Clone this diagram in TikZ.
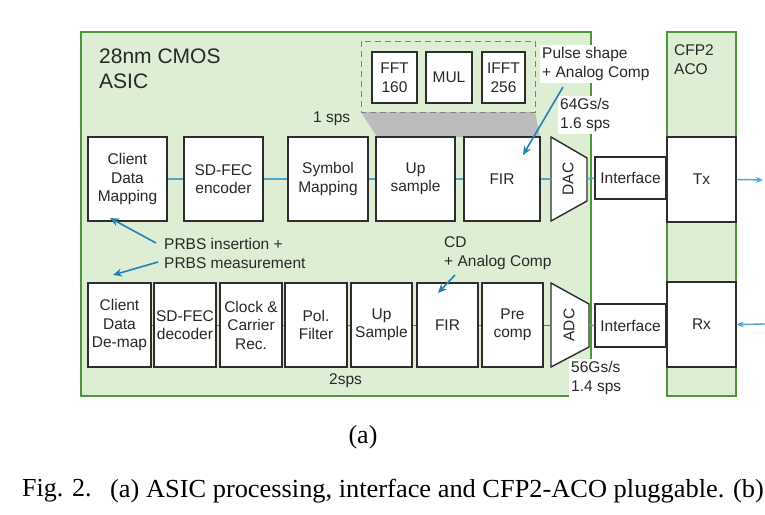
\documentclass[tikz,border=0pt]{standalone}
\usepackage{fontspec}
\setmainfont{Liberation Sans}
\newfontfamily\capfont{Liberation Serif}
\usetikzlibrary{arrows.meta}

\definecolor{asicfill}{RGB}{221,238,212}
\definecolor{asicline}{RGB}{78,150,58}
\definecolor{boxline}{RGB}{45,45,45}
\definecolor{linkblue}{RGB}{80,165,205}
\definecolor{arrowblue}{RGB}{35,130,180}
\definecolor{txt}{RGB}{40,40,40}
\definecolor{greyband}{RGB}{188,188,188}

\begin{document}
\begin{tikzpicture}[x=1pt,y=-1pt,
  blk/.style={draw=boxline, line width=1.4pt, fill=white, text=txt, align=center,
              inner sep=0pt, font=\fontsize{15.5}{18.5}\selectfont},
  conv/.style={draw=boxline, line width=1.4pt, fill=white},
  lbl/.style={text=txt, align=left, inner sep=2pt, anchor=north west,
              font=\fontsize{15.5}{19}\selectfont},
  whitelbl/.style={lbl, fill=white},
  link/.style={draw=linkblue, line width=1.4pt},
  stub/.style={draw=boxline!70, line width=1pt},
  ptr/.style={draw=arrowblue, line width=1.6pt, -{Stealth[length=9pt,width=8pt]}},
  region/.style={draw=asicline, line width=2pt, fill=asicfill},
  captext/.style={text=black, inner sep=0pt, font=\capfont\fontsize{26}{30}\selectfont},
]
\useasboundingbox (0,0) rectangle (765,514);

% ASIC and pluggable outlines
\path[region] (81,32) rectangle (591,396);
\path[region] (667,32) rectangle (736,396);

% rate and function labels sitting on the outline
\node[whitelbl] (pulse) at (540,45) {Pulse shape\\+ Analog Comp};
\node[whitelbl] (rate1) at (558,96) {64Gs/s\\1.6 sps};
\node[whitelbl] (rate2) at (569,359) {56Gs/s\\1.4 sps};

\node[lbl, font=\fontsize{21}{25}\selectfont] (asic) at (97,47) {28nm CMOS\\ASIC};
\node[lbl] (cfp) at (672,42) {CFP2\\ACO};
\node[lbl] (sps1) at (311,110) {1 sps};
\node[lbl] (sps2) at (327,371) {2sps};
\node[lbl] (prbs) at (162,236) {PRBS insertion +\\PRBS measurement};
\node[lbl] (cd) at (442,234) {CD\\+ Analog Comp};

% frequency-domain filter detail
\fill[greyband] (361,112) -- (535,112) -- (540,137) -- (377,137) -- cycle;
\draw[boxline!60, line width=1pt, dash pattern=on 6pt off 4pt] (361,41) rectangle (535,112);
\node[blk, minimum width=45pt, minimum height=51pt] (fft) at (394.5,77.5) {FFT\\160};
\node[blk, minimum width=46pt, minimum height=51pt] (mul) at (449,77.5) {MUL};
\node[blk, minimum width=43pt, minimum height=51pt] (ifft) at (503.5,77.5) {IFFT\\256};

% transmit chain
\node[blk, minimum width=79pt, minimum height=84pt] (cdm) at (127.5,179) {Client\\Data\\Mapping};
\node[blk, minimum width=79pt, minimum height=84pt] (enc) at (223.5,179) {SD-FEC\\encoder};
\node[blk, minimum width=80pt, minimum height=84pt] (sym) at (328,179) {Symbol\\Mapping};
\node[blk, minimum width=79pt, minimum height=84pt] (ups) at (415.5,179) {Up\\sample};
\node[blk, minimum width=76pt, minimum height=84pt] (fir) at (502,179) {FIR};
\path[conv] (551,137) -- (587,158) -- (587,201) -- (551,221) -- cycle;
\node[text=txt, rotate=90, font=\fontsize{15.5}{18.5}\selectfont] (dac) at (568,179) {DAC};
\coordinate (dacin) at (551,179);
\coordinate (dacout) at (587,179);
\node[blk, minimum width=71pt, minimum height=42pt] (ifa) at (630.5,178) {Interface};
\node[blk, minimum width=69pt, minimum height=85pt] (tx) at (701.5,179.5) {Tx};

% receive chain
\node[blk, minimum width=63pt, minimum height=84pt] (cdd) at (119.5,325) {Client\\Data\\De-map};
\node[blk, minimum width=62pt, minimum height=84pt] (dec) at (185,325) {SD-FEC\\decoder};
\node[blk, minimum width=62pt, minimum height=84pt] (ccr) at (251,325) {Clock \&\\Carrier\\Rec.};
\node[blk, minimum width=62pt, minimum height=84pt] (pol) at (316,325) {Pol.\\Filter};
\node[blk, minimum width=61pt, minimum height=84pt] (ups2) at (381.5,325) {Up\\Sample};
\node[blk, minimum width=61pt, minimum height=84pt] (fir2) at (447.5,325) {FIR};
\node[blk, minimum width=61pt, minimum height=84pt] (pre) at (512.5,325) {Pre\\comp};
\path[conv] (551,283) -- (589,304) -- (589,347) -- (551,367) -- cycle;
\node[text=txt, rotate=90, font=\fontsize{15.5}{18.5}\selectfont] (adc) at (569,325) {ADC};
\coordinate (adcin) at (551,325);
\coordinate (adcout) at (589,325);
\node[blk, minimum width=71pt, minimum height=43pt] (ifb) at (630.5,325.5) {Interface};
\node[blk, minimum width=69pt, minimum height=85pt] (rx) at (701.5,324.5) {Rx};

% transmit links
\draw[link] (cdm.east) -- (enc.west);
\draw[link] (enc.east) -- (sym.west);
\draw[link] (sym.east) -- (ups.west);
\draw[link] (ups.east) -- (fir.west);
\draw[link] (fir.east) -- (dacin);
\draw[link] (dacout) -- (ifa.west);

% receive links
\draw[stub] (cdd.east) -- (dec.west);
\draw[stub] (dec.east) -- (ccr.west);
\draw[stub] (ccr.east) -- (pol.west);
\draw[stub] (pol.east) -- (ups2.west);
\draw[stub] (ups2.east) -- (fir2.west);
\draw[stub] (fir2.east) -- (pre.west);
\draw[stub] (pre.east) -- (adcin);
\draw[link] (adcout) -- (ifb.west);

% optical ports
\coordinate (txo) at (763,180);
\coordinate (rxi) at (765,324);
\draw[draw=linkblue, line width=1.4pt, -{Stealth[length=7pt,width=6pt]}] (tx.east) -- (txo);
\draw[draw=linkblue, line width=1.4pt, -{Stealth[length=7pt,width=6pt]}] (rxi) -- (rx.east);

% annotation pointers
\coordinate (pulsetip) at (523,155);
\coordinate (cdmtip) at (110,218);
\coordinate (cddtip) at (113,275);
\coordinate (cdtip) at (438,293);
\draw[ptr] (563,87) -- (pulsetip);
\draw[ptr] (156,243) -- (cdmtip);
\draw[ptr] (158,262) -- (cddtip);
\draw[ptr] (455,275) -- (cdtip);

% caption
\node[captext] (sub) at (363,437) {(a)};
\node[captext, anchor=west] (fig) at (22,491) {Fig. 2.};
\node[captext, anchor=west, xscale=1.015] (cap) at (110,491) {(a) ASIC processing, interface and CFP2-ACO pluggable. (b)};
\end{tikzpicture}
\end{document}
